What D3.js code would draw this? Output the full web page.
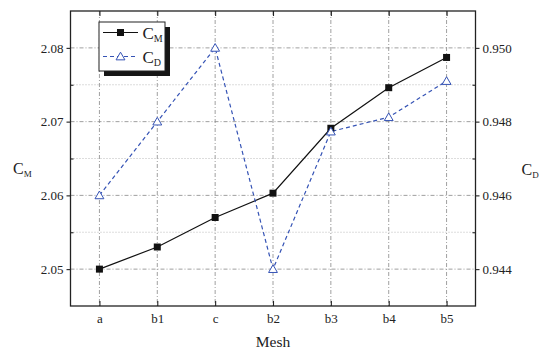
<!DOCTYPE html>
<html><head><meta charset="utf-8">
<script src="https://cdn.jsdelivr.net/npm/d3@7"></script>
<style>
body{margin:0;background:#fff}
svg{display:block}
text{font-family:"Liberation Serif","Times New Roman",serif;fill:#222}
</style>
</head><body>
<svg id="c" width="540" height="354"></svg>
<script>
const categories = ["a","b1","c","b2","b3","b4","b5"];
const cmValues = [2.0500, 2.0530, 2.0570, 2.0603, 2.0691, 2.0746, 2.0787];
const cdValues = [0.9460, 0.9480, 0.9500, 0.9440, 0.94773, 0.94812, 0.9491];
const leftTicks = [2.05, 2.06, 2.07, 2.08];
const leftMinor = [2.055, 2.065, 2.075];
const rightTicks = [0.944, 0.946, 0.948, 0.950];
const rightMinor = [0.945, 0.947, 0.949];

const L = 70.5, R = 475.5, T = 11, B = 306;
const svg = d3.select("#c");
const x = d3.scalePoint().domain(categories).range([L, R]).padding(0.5);
const yL = d3.scaleLinear().domain([2.045, 2.085]).range([B, T]);
const yR = d3.scaleLinear().domain([0.943, 0.951]).range([B, T]);

// grid
const grid = svg.append("g");
grid.selectAll(".vg").data(categories).enter().append("line")
  .attr("x1", d => x(d)).attr("x2", d => x(d)).attr("y1", T).attr("y2", B)
  .attr("stroke", "#888").attr("stroke-width", 0.8).attr("stroke-dasharray", "4,2,1,2");
grid.selectAll(".hg").data(leftTicks).enter().append("line")
  .attr("x1", L).attr("x2", R).attr("y1", d => yL(d)).attr("y2", d => yL(d))
  .attr("stroke", "#888").attr("stroke-width", 0.8).attr("stroke-dasharray", "4,2,1,2");
grid.selectAll(".mg").data(leftMinor).enter().append("line")
  .attr("x1", L).attr("x2", R).attr("y1", d => yL(d)).attr("y2", d => yL(d))
  .attr("stroke", "#aaa").attr("stroke-width", 0.8).attr("stroke-dasharray", "1,2");

// axes
function style(g){ g.select(".domain").remove(); g.selectAll("line").attr("stroke","#222").attr("stroke-width",1.1); g.selectAll("text").attr("font-size",13).attr("font-family",'"Liberation Serif","Times New Roman",serif').attr("fill","#222"); }
svg.append("g").attr("transform",`translate(${L},0)`)
  .call(d3.axisLeft(yL).tickValues(leftTicks).tickFormat(d3.format(".2f")).tickSize(4).tickPadding(3)).call(style);
svg.append("g").attr("transform",`translate(${L},0)`)
  .call(d3.axisRight(yL).tickValues(leftMinor).tickSize(3).tickFormat("")).call(style);
svg.append("g").attr("transform",`translate(${R},0)`)
  .call(d3.axisRight(yR).tickValues(rightTicks).tickFormat(d3.format(".3f")).tickSize(4).tickPadding(3)).call(style);
svg.append("g").attr("transform",`translate(${R},0)`)
  .call(d3.axisLeft(yR).tickValues(rightMinor).tickSize(3).tickFormat("")).call(style);
svg.append("g").attr("transform",`translate(0,${B})`)
  .call(d3.axisBottom(x).tickSize(-5).tickPadding(8)).call(style);
svg.append("g").attr("transform",`translate(0,${T})`)
  .call(d3.axisTop(x).tickSize(-5).tickFormat("")).call(style);

// frame
svg.append("rect").attr("x",L).attr("y",T).attr("width",R-L).attr("height",B-T)
  .attr("fill","none").attr("stroke","#222").attr("stroke-width",1.3);

// series
const blue = "#3553b5";
const cmData = categories.map((c,i)=>({c, v: cmValues[i]}));
const cdData = categories.map((c,i)=>({c, v: cdValues[i]}));
svg.append("path").datum(cmData)
  .attr("d", d3.line().x(d=>x(d.c)).y(d=>yL(d.v)))
  .attr("fill","none").attr("stroke","#111").attr("stroke-width",1.2);
svg.append("path").datum(cdData)
  .attr("d", d3.line().x(d=>x(d.c)).y(d=>yR(d.v)))
  .attr("fill","none").attr("stroke",blue).attr("stroke-width",1.2).attr("stroke-dasharray","4,3");
svg.selectAll(".sq").data(cmData).enter().append("rect")
  .attr("x", d=>x(d.c)-3.5).attr("y", d=>yL(d.v)-3.5).attr("width",7).attr("height",7).attr("fill","#111");
const tri = d3.symbol().type(d3.symbolTriangle).size(34);
svg.selectAll(".tr").data(cdData).enter().append("path")
  .attr("d", tri).attr("transform", d=>`translate(${x(d.c)},${yR(d.v)+0.8})`)
  .attr("fill","#fff").attr("stroke",blue).attr("stroke-width",1);

// legend
const lg = svg.append("g");
lg.append("rect").attr("x",104).attr("y",27).attr("width",66).attr("height",49).attr("fill","#161616");
lg.append("rect").attr("x",99).attr("y",22).attr("width",66).attr("height",49).attr("fill","#fff").attr("stroke","#222").attr("stroke-width",1);
lg.append("line").attr("x1",103).attr("x2",138).attr("y1",32.5).attr("y2",32.5).attr("stroke","#111").attr("stroke-width",1.2);
lg.append("rect").attr("x",117).attr("y",29).attr("width",7).attr("height",7).attr("fill","#111");
lg.append("line").attr("x1",103).attr("x2",138).attr("y1",56.5).attr("y2",56.5).attr("stroke",blue).attr("stroke-width",1.2).attr("stroke-dasharray","4,3");
lg.append("path").attr("d",tri).attr("transform","translate(120.5,57.3)").attr("fill","#fff").attr("stroke",blue).attr("stroke-width",1);
const t1 = lg.append("text").attr("x",142.5).attr("y",38.5).attr("font-size",17);
t1.append("tspan").text("C");
t1.append("tspan").attr("font-size",10).attr("dy",3.2).text("M");
const t2 = lg.append("text").attr("x",142.5).attr("y",62.5).attr("font-size",17);
t2.append("tspan").text("C");
t2.append("tspan").attr("font-size",10).attr("dy",3.2).text("D");

// axis titles
const yl = svg.append("text").attr("x",13).attr("y",174).attr("font-size",16);
yl.append("tspan").text("C");
yl.append("tspan").attr("font-size",9).attr("dy",3.2).text("M");
const yr = svg.append("text").attr("x",521.5).attr("y",175).attr("font-size",16);
yr.append("tspan").text("C");
yr.append("tspan").attr("font-size",9).attr("dy",3.2).text("D");
svg.append("text").attr("x",(L+R)/2).attr("y",347).attr("text-anchor","middle").attr("font-size",15.5).text("Mesh");
</script>
</body></html>
